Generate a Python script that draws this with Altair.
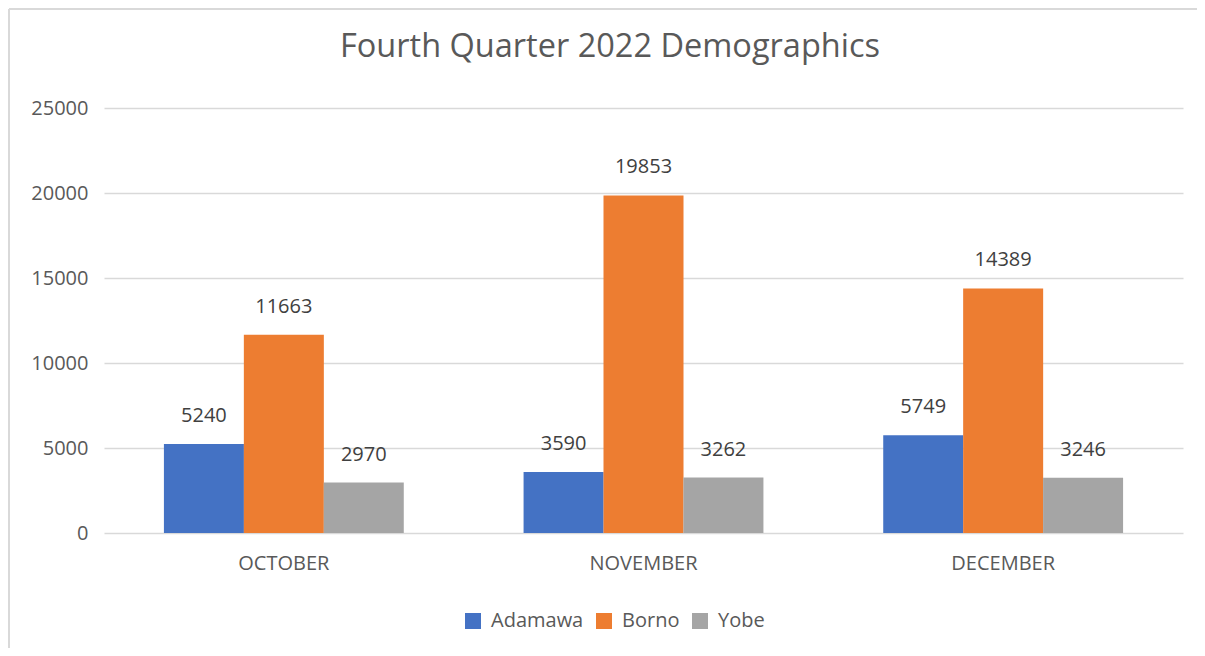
import altair as alt
import pandas as pd

title_text = "Fourth Quarter 2022 Demographics"
months = ["OCTOBER", "NOVEMBER", "DECEMBER"]
series = ["Adamawa", "Borno", "Yobe"]
adamawa = [5240, 3590, 5749]
borno = [11663, 19853, 14389]
yobe = [2970, 3262, 3246]
colors = ["#4472C4", "#ED7D31", "#A5A5A5"]
y_ticks = [0, 5000, 10000, 15000, 20000, 25000]

rows = []
for name, vals in zip(series, [adamawa, borno, yobe]):
    for m, v in zip(months, vals):
        rows.append({"month": m, "state": name, "value": v})
df = pd.DataFrame(rows)

FONT = "Open Sans"
W, H = 1079, 425

x_enc = alt.X("month:N", sort=months, title=None,
              scale=alt.Scale(paddingInner=0.3333, paddingOuter=0.1667),
              axis=alt.Axis(labelAngle=0, labelFont=FONT, labelFontSize=20,
                            labelColor="#595959", labelPadding=20, ticks=False,
                            domain=False, grid=False))
xo = alt.XOffset("state:N", sort=series, scale=alt.Scale(paddingInner=0, paddingOuter=0))
y_enc = alt.Y("value:Q", title=None,
              scale=alt.Scale(domain=[0, 25000], nice=False),
              axis=alt.Axis(values=y_ticks, format="d", labelFont=FONT, labelFontSize=20,
                            labelColor="#595959", labelPadding=16, ticks=False,
                            domain=False, gridColor="#D9D9D9", gridWidth=1.5))

base = alt.Chart(df)

bars = base.mark_bar(size=80).encode(
    x=x_enc, xOffset=xo, y=y_enc,
    color=alt.Color("state:N", sort=series,
                    scale=alt.Scale(domain=series, range=colors),
                    legend=alt.Legend(title=None, orient="none", direction="horizontal",
                                      legendX=359, legendY=503,
                                      symbolType="square", symbolSize=256,
                                      symbolStrokeWidth=0, labelFont=FONT,
                                      labelFontSize=20, labelColor="#595959",
                                      labelOffset=8, columnPadding=10)),
)

labels = base.mark_text(font=FONT, fontSize=20, color="#404040",
                        baseline="alphabetic", dy=-22).encode(
    x=alt.X("month:N", sort=months), xOffset=alt.XOffset("state:N", sort=series),
    y=alt.Y("value:Q"), text=alt.Text("value:Q", format="d"),
)

deco = alt.Chart(pd.DataFrame({"t": [title_text]}))

border_left = deco.mark_rule(color="#D9D9D9", strokeWidth=2).encode(
    x=alt.value(-95), y=alt.value(-99), y2=alt.value(540))
border_top = deco.mark_rule(color="#D9D9D9", strokeWidth=2).encode(
    x=alt.value(-95), x2=alt.value(1093), y=alt.value(-99))

title = deco.mark_text(font=FONT, fontSize=32.5, color="#595959", align="center",
                       baseline="alphabetic").encode(
    x=alt.value(506), y=alt.value(-51), text="t:N")

chart = alt.layer(border_left, border_top, title, bars, labels).properties(
    width=W, height=H,
    autosize=alt.AutoSizeParams(type="none"),
    padding={"left": 96, "top": 100, "right": 14, "bottom": 115},
).configure_view(stroke=None)

chart.save("out.html", embed_options={"renderer": "svg", "actions": False})
